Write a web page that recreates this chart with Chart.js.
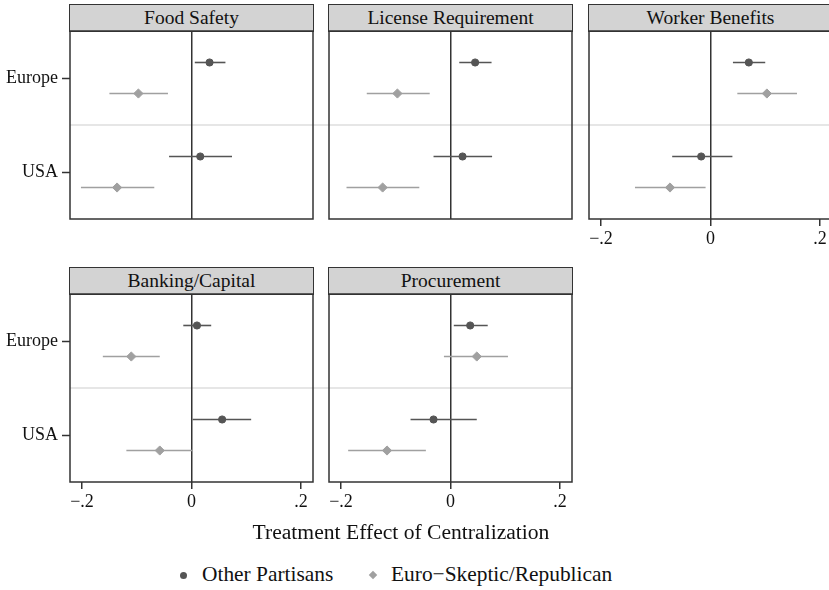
<!DOCTYPE html>
<html>
<head>
<meta charset="utf-8">
<script src="https://cdn.jsdelivr.net/npm/chart.js@4.4.1/dist/chart.umd.min.js"></script>
<style>
  body { margin: 0; width: 829px; height: 590px; overflow: hidden; background: #fff; position: relative;
         font-family: "Liberation Serif", "Times New Roman", "DejaVu Serif", serif; color: #111; }
  canvas { position: absolute; }
  .head { position: absolute; box-sizing: border-box; width: 245px; height: 28px; background: #d3d3d3;
          border: 1.5px solid #333; font-size: 19.5px; text-align: center; line-height: 25px; }
  .txt { position: absolute; white-space: nowrap; }
  .dot { position: absolute; width: 7px; height: 7px; border-radius: 50%; background: #555; }
  .dia { position: absolute; width: 6px; height: 6px; background: #a0a0a0; transform: rotate(45deg); }
</style>
</head>
<body>
<div id="wrap"></div>
<div class="txt" style="left:0;width:802px;text-align:center;top:520px;font-size:21.6px;">Treatment Effect of Centralization</div>
<span class="dot" style="left:180px;top:572px;"></span>
<div class="txt" style="left:202px;top:562px;font-size:21.4px;">Other Partisans</div>
<span class="dia" style="left:370px;top:572px;"></span>
<div class="txt" style="left:391px;top:562px;font-size:21.4px;">Euro&minus;Skeptic/Republican</div>

<script>
// panels and categories
const panels = ["Food Safety", "License Requirement", "Worker Benefits", "Banking/Capital", "Procurement"];
const regions = ["Europe", "USA"];
const regionPos = [1, 3];

// estimates and 95% intervals, per panel: [Europe, USA]
const otherEst = [[0.033, 0.016], [0.045, 0.022], [0.070, -0.017], [0.010, 0.056], [0.036, -0.031]];
const otherLo  = [[0.006, -0.041], [0.016, -0.031], [0.041, -0.070], [-0.015, 0.002], [0.006, -0.073]];
const otherHi  = [[0.062, 0.074], [0.075, 0.076], [0.100, 0.040], [0.036, 0.109], [0.068, 0.048]];
const skepEst  = [[-0.097, -0.136], [-0.097, -0.124], [0.103, -0.074], [-0.110, -0.058], [0.048, -0.116]];
const skepLo   = [[-0.150, -0.202], [-0.153, -0.190], [0.049, -0.138], [-0.162, -0.119], [-0.012, -0.187]];
const skepHi   = [[-0.043, -0.068], [-0.038, -0.057], [0.158, -0.009], [-0.058, 0.002], [0.105, -0.045]];

const xTickValues = [-0.2, 0, 0.2];
const xTickLabels = ["\u2212.2", "0", ".2"];

const FONT = "'Liberation Serif', 'Times New Roman', 'DejaVu Serif', serif";
const OTHER = "#555555";
const SKEP = "#a0a0a0";
const OFF = 0.33;

// where each panel sits on the page
const boxes = [
  { plotLeft: 70,  plotTop: 31,  L: 70, R: 8,  B: 3,  xt: false, yt: true,  fromEdge: false, toEdge: true },
  { plotLeft: 329, plotTop: 31,  L: 8,  R: 9,  B: 3,  xt: false, yt: false, fromEdge: true,  toEdge: true },
  { plotLeft: 589, plotTop: 31,  L: 8,  R: 8,  B: 40, xt: true,  yt: false, fromEdge: true,  toEdge: true },
  { plotLeft: 70,  plotTop: 294, L: 70, R: 8,  B: 40, xt: true,  yt: true,  fromEdge: false, toEdge: true },
  { plotLeft: 329, plotTop: 294, L: 8,  R: 9,  B: 40, xt: true,  yt: false, fromEdge: true,  toEdge: false }
];
const PW = 243, PH = 188;

const framePlugin = {
  id: "frame",
  beforeDraw(chart, args, opts) {
    const { ctx, chartArea: a } = chart;
    const yy = chart.scales.y.getPixelForValue(2);
    ctx.save();
    ctx.strokeStyle = "#dedede";
    ctx.lineWidth = 1.5;
    ctx.beginPath();
    ctx.moveTo(opts.fromEdge ? 0 : a.left, yy);
    ctx.lineTo(opts.toEdge ? chart.width : a.right, yy);
    ctx.stroke();
    ctx.restore();
  },
  afterDatasetsDraw(chart) {
    const { ctx, chartArea: a } = chart;
    ctx.save();
    ctx.strokeStyle = "#333";
    ctx.lineWidth = 1.5;
    ctx.strokeRect(a.left, a.top, a.right - a.left, a.bottom - a.top);
    ctx.restore();
  }
};

function bar(lo, hi, y, color) {
  return {
    type: "line", data: [{ x: lo, y: y }, { x: hi, y: y }],
    borderColor: color, borderWidth: 1.6, pointRadius: 0, order: 1
  };
}

function noPad(s) {
  s.paddingTop = 0; s.paddingBottom = 0; s.paddingLeft = 0; s.paddingRight = 0;
}

const wrap = document.getElementById("wrap");

panels.forEach((name, k) => {
  const b = boxes[k];
  const head = document.createElement("div");
  head.className = "head";
  head.style.left = (b.plotLeft - 1) + "px";
  head.style.top = (b.plotTop - 27) + "px";
  head.textContent = name;
  wrap.appendChild(head);

  const cv = document.createElement("canvas");
  cv.width = b.L + PW + b.R;
  cv.height = 2 + PH + b.B;
  cv.style.left = (b.plotLeft - b.L) + "px";
  cv.style.top = (b.plotTop - 2) + "px";
  wrap.appendChild(cv);

  const datasets = [
    { label: "Other Partisans", data: regionPos.map((p, i) => ({ x: otherEst[k][i], y: p - OFF })),
      pointStyle: "circle", pointRadius: 3.6, backgroundColor: OTHER, borderColor: OTHER, order: 0 },
    { label: "Euro-Skeptic/Republican", data: regionPos.map((p, i) => ({ x: skepEst[k][i], y: p + OFF })),
      pointStyle: "rectRot", pointRadius: 4.6, backgroundColor: SKEP, borderColor: SKEP, order: 0 }
  ];
  regionPos.forEach((p, i) => {
    datasets.push(bar(otherLo[k][i], otherHi[k][i], p - OFF, OTHER));
    datasets.push(bar(skepLo[k][i], skepHi[k][i], p + OFF, SKEP));
  });

  new Chart(cv, {
    type: "scatter",
    data: { datasets },
    options: {
      responsive: false, animation: false, events: [],
      layout: { autoPadding: false, padding: { top: 2, right: b.R, left: 0, bottom: 0 } },
      plugins: { legend: { display: false }, tooltip: { enabled: false },
                 frame: { fromEdge: b.fromEdge, toEdge: b.toEdge } },
      scales: {
        x: {
          type: "linear", min: -0.222, max: 0.222,
          border: { display: false },
          afterBuildTicks: s => { s.ticks = xTickValues.map(v => ({ value: v })); },
          afterFit: s => { s.height = b.B; noPad(s); },
          grid: { drawOnChartArea: true, drawTicks: b.xt, tickLength: 7, lineWidth: 1.5,
                  color: c => (c.tick && c.tick.value === 0) ? "#333" : "rgba(0,0,0,0)",
                  tickColor: "#333", tickWidth: 1.5 },
          ticks: { display: b.xt, padding: 2, autoSkip: false, maxRotation: 0, color: "#111",
                   font: { family: FONT, size: 18 }, callback: (v, i) => xTickLabels[i] }
        },
        y: {
          type: "linear", reverse: true, min: 0, max: 4,
          border: { display: false },
          afterBuildTicks: s => { s.ticks = regionPos.map(v => ({ value: v })); },
          afterFit: s => { s.width = b.L; noPad(s); },
          grid: { drawOnChartArea: false, drawTicks: b.yt, tickLength: 8, tickColor: "#333", tickWidth: 1.5 },
          ticks: { display: b.yt, padding: 4, color: "#111",
                   font: { family: FONT, size: 18 }, callback: (v, i) => regions[i] }
        }
      }
    },
    plugins: [framePlugin]
  });
});
</script>
</body>
</html>
